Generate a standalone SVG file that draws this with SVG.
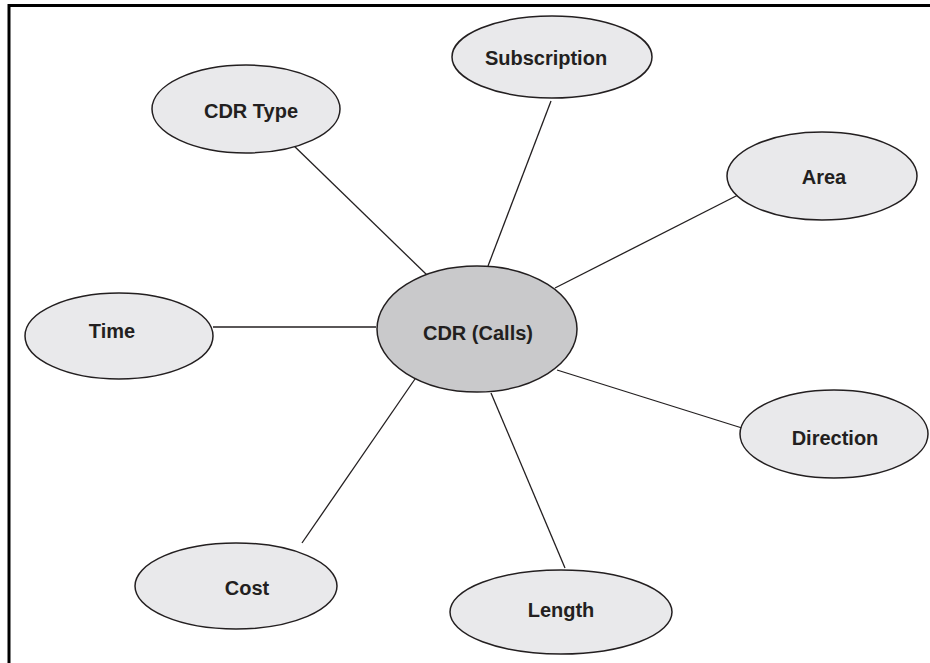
<svg xmlns="http://www.w3.org/2000/svg" width="930" height="663" viewBox="0 0 930 663">
<style>
.n{fill:#e9e9eb;stroke:#231f20;stroke-width:1.5}
.c{fill:#c9c9cb;stroke:#231f20;stroke-width:1.5}
.t{font-family:"Liberation Sans",Arial,sans-serif;font-weight:bold;font-size:20px;fill:#231f20;text-anchor:middle}
.e{stroke:#231f20;stroke-width:1.3;fill:none}
</style>
<rect width="930" height="663" fill="#fff"/>
<path d="M9 663V5.5H930" fill="none" stroke="#000" stroke-width="3"/>
<g id="connectors">
<line class="e" x1="290" y1="142" x2="427" y2="275"/>
<line class="e" x1="551" y1="101" x2="488" y2="266"/>
<line class="e" x1="740" y1="194" x2="555" y2="288"/>
<line class="e" x1="213" y1="327" x2="376" y2="327"/>
<line class="e" x1="742" y1="428" x2="557" y2="370"/>
<line class="e" x1="565" y1="568" x2="491" y2="393"/>
<line class="e" x1="302" y1="543" x2="415" y2="379"/>
</g>
<g id="center"><ellipse class="c" cx="477" cy="329" rx="100" ry="63"/><text class="t" x="478" y="340">CDR (Calls)</text></g>
<g id="cdrtype"><ellipse class="n" cx="246" cy="109" rx="94" ry="44"/><text class="t" x="251" y="118">CDR Type</text></g>
<g id="subscription"><ellipse class="n" cx="552" cy="57" rx="100" ry="41"/><text class="t" x="546" y="65">Subscription</text></g>
<g id="area"><ellipse class="n" cx="822" cy="176" rx="95" ry="44"/><text class="t" x="824" y="184">Area</text></g>
<g id="time"><ellipse class="n" cx="119" cy="336" rx="94" ry="43"/><text class="t" x="112" y="338">Time</text></g>
<g id="direction"><ellipse class="n" cx="834" cy="434" rx="94" ry="44"/><text class="t" x="835" y="445">Direction</text></g>
<g id="cost"><ellipse class="n" cx="236" cy="586" rx="101" ry="43"/><text class="t" x="247" y="595">Cost</text></g>
<g id="length"><ellipse class="n" cx="561" cy="612" rx="111" ry="42"/><text class="t" x="561" y="617">Length</text></g>
</svg>
